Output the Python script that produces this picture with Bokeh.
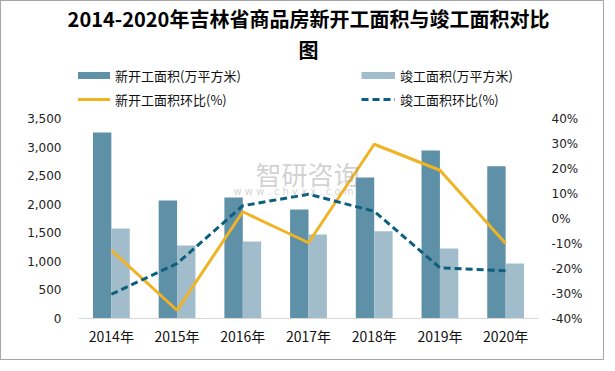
import math
from bokeh.plotting import figure
from bokeh.models import (ColumnDataSource, FactorRange, Range1d, LinearAxis, FixedTicker,
                          NumeralTickFormatter, PrintfTickFormatter, Legend, LegendItem, Label, Title)
from bokeh.transform import dodge
from bokeh.embed import file_html
from bokeh.resources import INLINE

years = ["2014年", "2015年", "2016年", "2017年", "2018年", "2019年", "2020年"]
new_area = [3255, 2065, 2117, 1907, 2467, 2940, 2665]
done_area = [1575, 1277, 1347, 1470, 1528, 1225, 962]
new_ratio = [-12.7, -36.7, 2.7, -9.7, 29.7, 19.3, -10.0]
done_ratio = [-30.3, -18.0, 5.1, 9.7, 2.9, -19.7, -20.9]
left_ticks = [0, 500, 1000, 1500, 2000, 2500, 3000, 3500]
right_ticks = [-40, -30, -20, -10, 0, 10, 20, 30, 40]
title_lines = ["2014-2020年吉林省商品房新开工面积与竣工面积对比", "图"]
legend_labels = ["新开工面积(万平方米)", "竣工面积(万平方米)", "新开工面积环比(%)", "竣工面积环比(%)"]

C_NEW = "#5e90a8"
C_DONE = "#a1bdcb"
C_YEL = "#f0b323"
C_DASH = "#0c5f7d"
CJK = "Noto Sans CJK SC"

# the frame (below the two title panels) is ~255 px tall; data occupies its lower 200 px
FRAME_H = 255.0
DATA_H = 200.0
ext = FRAME_H / DATA_H

src = ColumnDataSource(dict(years=years, new_area=new_area, done_area=done_area,
                            new_ratio=new_ratio, done_ratio=done_ratio))

p = figure(x_range=FactorRange(*years),
           y_range=Range1d(left_ticks[0], left_ticks[0] + (left_ticks[-1] - left_ticks[0]) * ext),
           width=604, height=360, output_backend="svg", toolbar_location=None, title=None,
           min_border_left=77, min_border_right=67, min_border_top=0, min_border_bottom=43)
p.styles = {"border": "1px solid #a6a6a6"}
p.outline_line_color = None
p.xgrid.grid_line_color = None
p.ygrid.grid_line_color = None
p.background_fill_color = "white"
p.border_fill_color = "white"

for txt in reversed(title_lines):
    p.add_layout(Title(text=txt, align="center", text_font=CJK, text_font_size="20px",
                       text_font_style="bold", text_color="#000000", standoff=0), "above")

p.extra_y_ranges = {"pct": Range1d(right_ticks[0],
                                   right_ticks[0] + (right_ticks[-1] - right_ticks[0]) * ext)}

b1 = p.vbar(x=dodge("years", -0.14, range=p.x_range), top="new_area", width=0.28,
            source=src, color=C_NEW, line_color=None)
b2 = p.vbar(x=dodge("years", 0.14, range=p.x_range), top="done_area", width=0.28,
            source=src, color=C_DONE, line_color=None)
l1 = p.line(x="years", y="new_ratio", source=src, y_range_name="pct",
            line_color=C_YEL, line_width=3)
l2 = p.line(x="years", y="done_ratio", source=src, y_range_name="pct",
            line_color=C_DASH, line_width=3, line_dash="7 4")

# legend proxies (no visible data)
d1 = p.line(x=years[:2], y=[math.nan, math.nan], line_color=C_NEW, line_width=7)
d2 = p.line(x=years[:2], y=[math.nan, math.nan], line_color=C_DONE, line_width=7)

# axes
xa = p.xaxis[0]
xa.axis_line_color = "#d9d9d9"
xa.major_tick_line_color = None
xa.minor_tick_line_color = None
xa.major_label_text_font = CJK
xa.major_label_text_font_size = "14px"
xa.major_label_text_color = "#111111"
xa.major_label_standoff = 1

ya = p.yaxis[0]
ya.ticker = FixedTicker(ticks=left_ticks)
ya.formatter = NumeralTickFormatter(format="0,0")
ya.axis_line_color = None
ya.major_tick_line_color = None
ya.minor_tick_line_color = None
ya.major_label_text_font = "DejaVu Sans"
ya.major_label_text_font_size = "12px"
ya.major_label_text_color = "#222222"
ya.major_label_standoff = 11

ra = LinearAxis(y_range_name="pct", ticker=FixedTicker(ticks=right_ticks),
                formatter=PrintfTickFormatter(format="%d%%"))
ra.axis_line_color = None
ra.major_tick_line_color = None
ra.minor_tick_line_color = None
ra.major_label_text_font = "DejaVu Sans"
ra.major_label_text_font_size = "12px"
ra.major_label_text_color = "#222222"
ra.major_label_standoff = 7
p.add_layout(ra, "right")

# watermark
p.add_layout(Label(x=177, y=145, x_units="screen", y_units="screen", text="智研咨询",
                   text_align="left", text_baseline="middle", text_font=CJK,
                   text_font_size="26px", text_color="#9a9a9a", text_alpha=0.45))
p.add_layout(Label(x=155, y=127, x_units="screen", y_units="screen",
                   text="w w w . c h y x x . c o m",
                   text_align="left", text_baseline="middle", text_font="DejaVu Sans",
                   text_font_size="10px", text_color="#9a9a9a", text_alpha=0.45))

legend = Legend(items=[LegendItem(label=legend_labels[0], renderers=[d1]),
                       LegendItem(label=legend_labels[2], renderers=[l1]),
                       LegendItem(label=legend_labels[1], renderers=[d2]),
                       LegendItem(label=legend_labels[3], renderers=[l2])],
                location=(-2, 209), ncols=2,
                glyph_width=34, glyph_height=20, label_height=20, label_width=242,
                label_standoff=5, spacing=4, padding=0, margin=0,
                label_text_font=CJK, label_text_font_size="13px",
                label_text_color="#111111",
                background_fill_alpha=0, border_line_color=None)
p.add_layout(legend)

open("out.html", "w").write(file_html(p, INLINE))
